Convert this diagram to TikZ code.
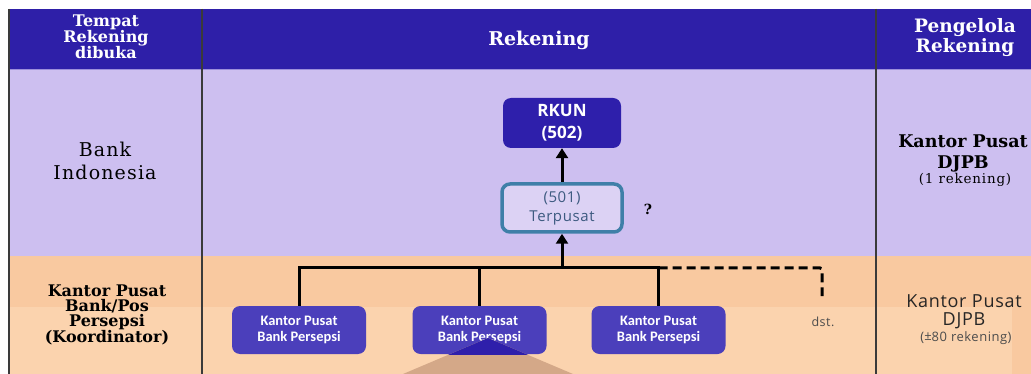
\documentclass[tikz,border=0pt]{standalone}
\usepackage{fontspec}
\usetikzlibrary{arrows.meta}
\newfontfamily\hdrserif{DejaVu Serif}
\newfontfamily\hdrserifsp{DejaVu Serif}[LetterSpace=6]
\newfontfamily\boxsans{Open Sans}
\newfontfamily\boxsanssp{Open Sans}[LetterSpace=4]
\newfontfamily\condsans{Carlito}
\definecolor{hdrblue}{HTML}{2E1FA8}
\definecolor{lav}{HTML}{CDBFF0}
\definecolor{peach}{HTML}{F9C9A0}
\definecolor{peachlt}{HTML}{FBD3AE}
\definecolor{boxblue}{HTML}{4B3FBB}
\definecolor{rkunblue}{HTML}{2E1FAB}
\definecolor{teal501}{HTML}{3F7FA8}
\definecolor{txt501}{HTML}{3D5A80}
\definecolor{tanc}{HTML}{D4A888}
\definecolor{gridc}{HTML}{3A3A3A}
\tikzset{
  hdr/.style={text=white, align=center, font=\hdrserif\bfseries\fontsize{19}{22}\selectfont, inner sep=0pt},
  rowlbl/.style={text=black, align=center, inner sep=0pt},
  kpbox/.style={fill=boxblue, rounded corners=8pt, minimum width=134pt, minimum height=48pt, text=white, align=center, inner sep=0pt, font=\condsans\bfseries\fontsize{14.5}{15.5}\selectfont},
  conn/.style={line width=3pt, black},
  arr/.style={line width=3pt, black, -{Triangle[width=12pt,length=10pt]}},
  gridl/.style={line width=2pt, gridc}
}
\begin{document}
\begin{tikzpicture}[x=1pt,y=-1pt]
\useasboundingbox (0,0) rectangle (1031,374);
\fill[white] (0,0) rectangle (1031,374);
% bands
\fill[hdrblue] (8,9) rectangle (1031,69);
\fill[lav] (8,69) rectangle (1031,256);
\fill[peach] (8,256) rectangle (1031,374);
\fill[peachlt] (8,307) rectangle (1012,374);
\draw[line width=1pt, color=lav!70!hdrblue] (8,69.5) -- (1031,69.5);
% grid lines
\draw[gridl] (8.5,9) -- (8.5,374);
\draw[gridl] (202,9) -- (202,374);
\draw[gridl] (876,9) -- (876,374);
% headers
\node[hdr, font=\hdrserif\bfseries\fontsize{16}{16}\selectfont] (h1) at (106,37) {Tempat\\Rekening\\dibuka};
\node[hdr] (h2) at (539,40) {Rekening};
\node[hdr, font=\hdrserif\bfseries\fontsize{18.5}{20}\selectfont] (h3) at (965,38) {Pengelola\\Rekening};
% row labels
\node[rowlbl, font=\hdrserifsp\fontsize{19}{23}\selectfont] (bi) at (105,161) {Bank\\Indonesia};
\node[rowlbl, font=\hdrserif\bfseries\fontsize{16}{15}\selectfont] (kp) at (107,315) {Kantor Pusat\\Bank/Pos\\Persepsi\\(Koordinator)};
\node[rowlbl, font=\hdrserif\bfseries\fontsize{17.5}{21}\selectfont] (dj1) at (963,153) {Kantor Pusat\\DJPB};
\node[rowlbl, font=\hdrserifsp\fontsize{13.5}{13}\selectfont] (dj1b) at (965,180) {(1 rekening)};
\node[rowlbl, font=\boxsanssp\fontsize{18}{18}\selectfont, text=black!85] (dj2) at (964,312) {Kantor Pusat\\DJPB};
\node[rowlbl, font=\boxsanssp\fontsize{13}{12}\selectfont, text=black!70] (dj2b) at (966,338) {(\raisebox{0.5pt}{±}80 rekening)};
% main boxes
\node[fill=rkunblue, rounded corners=8pt, minimum width=118pt, minimum height=50pt, text=white, align=center, inner sep=0pt, font=\boxsans\bfseries\fontsize{17}{22}\selectfont] (rkun) at (562,123) {RKUN\\(502)};
\node[fill=lav!70!white, draw=teal501, line width=3.5pt, rounded corners=8pt, minimum width=120pt, minimum height=48pt, text=txt501, align=center, inner sep=0pt, font=\boxsanssp\fontsize{15}{19}\selectfont] (t501) at (562,208) {(501)\\Terpusat};
\node[font=\hdrserif\bfseries\fontsize{14}{14}\selectfont, inner sep=0pt] (q) at (648,209) {?};
% bottom boxes
\node[kpbox] (b1) at (299,330) {Kantor Pusat\\Bank Persepsi};
\node[kpbox] (b2) at (479.5,330) {Kantor Pusat\\Bank Persepsi};
\node[kpbox] (b3) at (658.5,330) {Kantor Pusat\\Bank Persepsi};
\node[font=\boxsanssp\fontsize{12.5}{12}\selectfont, text=black!70, inner sep=0pt] (dst) at (823,322) {dst.};
% connectors
\coordinate (j) at (562,268);
\coordinate (dend) at (822,296);
\draw[conn] (b1.north) |- (b3.north |- j) -- (b3.north);
\draw[conn] (b2.north) -- (b2.north |- j);
\draw[arr] (j) -- (t501.south);
\draw[arr] (t501.north) -- (rkun.south);
\draw[line width=3pt, black, dash pattern=on 9pt off 5pt, rounded corners=2pt] (b3.north |- j) -- (dend |- j) -- (dend);
% artifact triangle at bottom
\fill[tanc] (488,338) -- (403,374) -- (573,374) -- cycle;
\begin{scope}
\clip (b2.south west) rectangle (b2.north east);
\fill[rkunblue] (488,338) -- (403,374) -- (573,374) -- cycle;
\end{scope}
\end{tikzpicture}
\end{document}
